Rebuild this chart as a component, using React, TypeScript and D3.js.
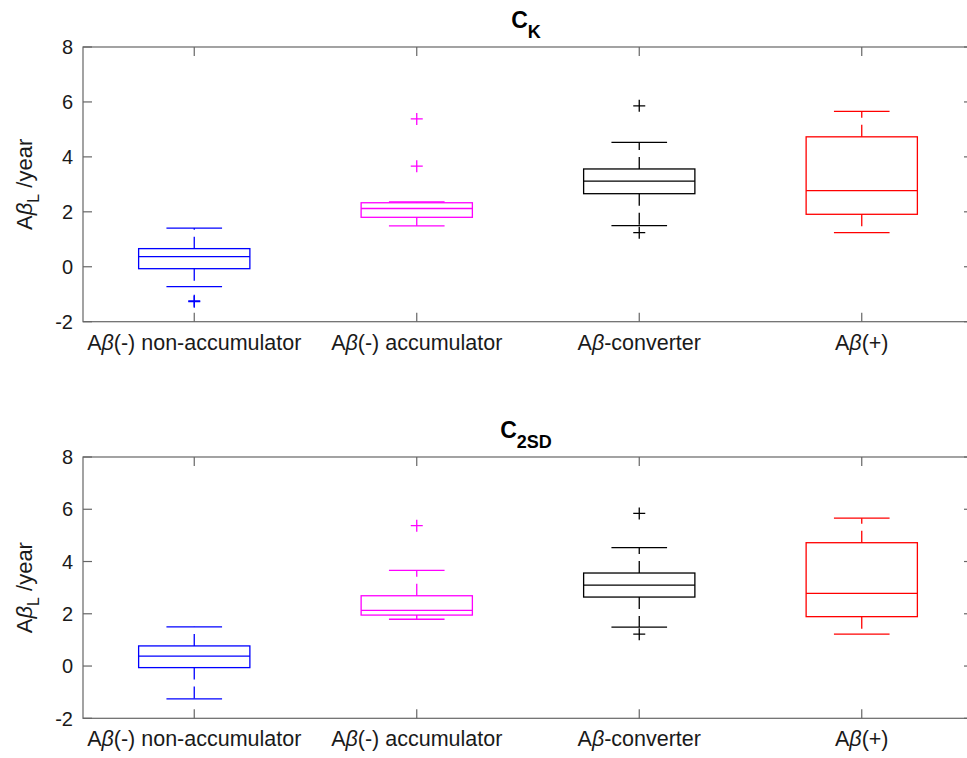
import React from "react";
import * as d3 from "d3";

// ---------- data ----------
const categories = ["Aβ(-) non-accumulator", "Aβ(-) accumulator", "Aβ-converter", "Aβ(+)"];
const colors = ["#0000ff", "#ff00ff", "#000000", "#ff0000"];
const yTicks = [-2, 0, 2, 4, 6, 8];

// Panel 1: C_K
const ckLowerWhisker = [-0.72, 1.49, 1.5, 1.24];
const ckQ1 = [-0.07, 1.8, 2.66, 1.91];
const ckMedian = [0.37, 2.12, 3.12, 2.77];
const ckQ3 = [0.66, 2.33, 3.56, 4.73];
const ckUpperWhisker = [1.41, 2.36, 4.53, 5.66];
const ckOutliers = [[-1.24, -1.27], [3.66, 5.38], [1.24, 5.86], []];

// Panel 2: C_2SD
const c2LowerWhisker = [-1.26, 1.79, 1.49, 1.22];
const c2Q1 = [-0.06, 1.95, 2.64, 1.89];
const c2Median = [0.38, 2.13, 3.1, 2.78];
const c2Q3 = [0.77, 2.69, 3.56, 4.72];
const c2UpperWhisker = [1.5, 3.66, 4.53, 5.66];
const c2Outliers = [[], [5.37], [1.22, 5.84], []];

const FONT = "'Liberation Sans', Arial, Helvetica, sans-serif";
const AXIS_COLOR = "#666";
const TEXT_COLOR = "#1a1a1a";

type PanelProps = {
  top: number;
  bottom: number;
  titleSub: string;
  lw: number[];
  q1: number[];
  med: number[];
  q3: number[];
  uw: number[];
  out: number[][];
};

function Label({ text }: { text: string }) {
  const parts = text.split("β");
  return (
    <>
      {parts.map((p, i) => (
        <React.Fragment key={i}>
          {i > 0 && <tspan fontStyle="italic">β</tspan>}
          <tspan>{p}</tspan>
        </React.Fragment>
      ))}
    </>
  );
}

function Panel({ top, bottom, titleSub, lw, q1, med, q3, uw, out }: PanelProps) {
  const left = 83;
  const right = 973;
  const x = d3.scalePoint<string>().domain(categories).range([left, right]).padding(0.5);
  const y = d3.scaleLinear().domain([-2, 8]).range([bottom, top]);
  const step = x.step();
  const boxW = step * 0.5;
  const capW = step * 0.25;
  const tickLen = 9;
  const cx = (left + right) / 2;

  return (
    <g>
      {/* title */}
      <text x={cx - 2} y={top - 19} textAnchor="middle" fontFamily={FONT} fontWeight="bold" fontSize={23} fill="#000">
        C<tspan fontSize={18} dy={10}>{titleSub}</tspan>
      </text>
      {/* y label */}
      <text
        transform={`translate(32, ${(top + bottom) / 2}) rotate(-90)`}
        textAnchor="middle"
        fontFamily={FONT}
        fontSize={22}
        fill={TEXT_COLOR}
      >
        A<tspan fontStyle="italic">β</tspan>
        <tspan fontSize={16} dy={7}>L</tspan>
        <tspan dy={-7}> /year</tspan>
      </text>
      {/* boxes */}
      {categories.map((c, i) => {
        const px = x(c)!;
        const col = colors[i];
        return (
          <g key={c} stroke={col} fill="none" strokeWidth={1.3}>
            <line x1={px} x2={px} y1={y(q3[i])} y2={y(uw[i])} strokeDasharray="12,7" />
            <line x1={px} x2={px} y1={y(q1[i])} y2={y(lw[i])} strokeDasharray="12,7" />
            <line x1={px - capW / 2} x2={px + capW / 2} y1={y(uw[i])} y2={y(uw[i])} />
            <line x1={px - capW / 2} x2={px + capW / 2} y1={y(lw[i])} y2={y(lw[i])} />
            <rect x={px - boxW / 2} width={boxW} y={y(q3[i])} height={y(q1[i]) - y(q3[i])} />
            <line x1={px - boxW / 2} x2={px + boxW / 2} y1={y(med[i])} y2={y(med[i])} />
            {out[i].map((v, j) => (
              <path key={j} d={`M${px - 6},${y(v)}H${px + 6}M${px},${y(v) - 6}V${y(v) + 6}`} />
            ))}
          </g>
        );
      })}
      {/* axes box */}
      <rect x={left} y={top} width={right - left} height={bottom - top} fill="none" stroke={AXIS_COLOR} strokeWidth={1.2} />
      {/* y ticks */}
      {yTicks.map((t) => (
        <g key={t}>
          <line x1={left} x2={left + tickLen} y1={y(t)} y2={y(t)} stroke={AXIS_COLOR} strokeWidth={1.2} />
          <line x1={right} x2={right - tickLen} y1={y(t)} y2={y(t)} stroke={AXIS_COLOR} strokeWidth={1.2} />
          <text x={left - 10} y={y(t)} dy="0.36em" textAnchor="end" fontFamily={FONT} fontSize={20} fill={TEXT_COLOR}>
            {t}
          </text>
        </g>
      ))}
      {/* x ticks */}
      {categories.map((c) => (
        <g key={c}>
          <line x1={x(c)!} x2={x(c)!} y1={bottom} y2={bottom - tickLen} stroke={AXIS_COLOR} strokeWidth={1.2} />
          <line x1={x(c)!} x2={x(c)!} y1={top} y2={top + tickLen} stroke={AXIS_COLOR} strokeWidth={1.2} />
          <text x={x(c)!} y={bottom + 28} textAnchor="middle" fontFamily={FONT} fontSize={21.5} fill={TEXT_COLOR}>
            <Label text={c} />
          </text>
        </g>
      ))}
    </g>
  );
}

export default function App() {
  return (
    <svg width={967} height={758} style={{ position: "absolute", left: 0, top: 0, background: "#fff" }}>
      <rect width={967} height={758} fill="#fff" />
      <Panel top={47} bottom={321.7} titleSub="K" lw={ckLowerWhisker} q1={ckQ1} med={ckMedian} q3={ckQ3} uw={ckUpperWhisker} out={ckOutliers} />
      <Panel top={457} bottom={718.3} titleSub="2SD" lw={c2LowerWhisker} q1={c2Q1} med={c2Median} q3={c2Q3} uw={c2UpperWhisker} out={c2Outliers} />
    </svg>
  );
}
